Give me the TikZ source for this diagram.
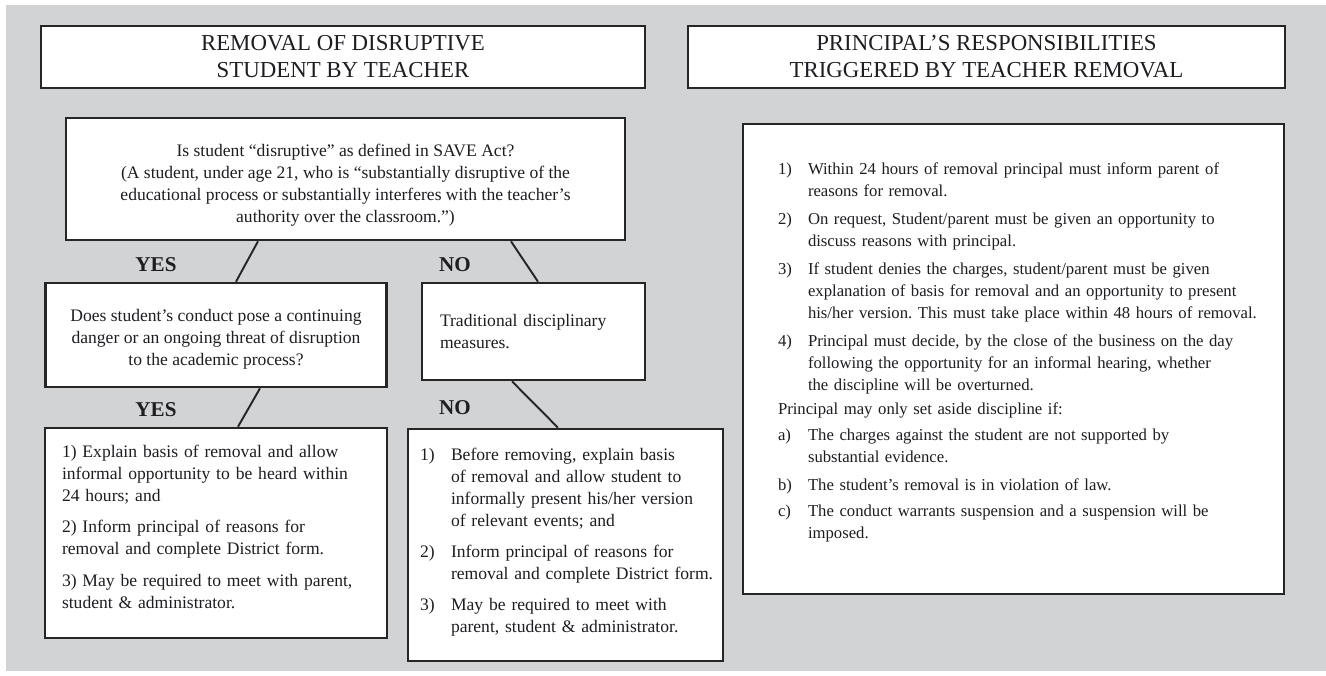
\documentclass[tikz,border=0pt]{standalone}
\usepackage{fontspec}
\setmainfont{Liberation Serif}
\frenchspacing
\definecolor{panelgray}{RGB}{210,211,213}
\definecolor{inkgray}{RGB}{30,30,34}
% hanging list item: \hitem[indent]{label}{lines}
\newcommand{\hitem}[3][0.6cm]{\par\noindent\makebox[#1][l]{#2}\begin{tabular}[t]{@{}l@{}}#3\end{tabular}}

\begin{document}
\begin{tikzpicture}[
    box/.style={rectangle, draw=black!85, line width=1.5pt, fill=white, text=inkgray, inner sep=0pt},
    titlebox/.style={box, align=center, font=\fontsize{13}{15.4}\selectfont},
    textbox/.style={box, font=\fontsize{10}{12.5}\selectfont},
    listbox/.style={textbox, align=left, execute at begin node={\setlength{\parskip}{#1}}},
    answer/.style={font=\fontsize{12}{14}\selectfont\bfseries, text=inkgray},
    link/.style={draw=black!85, line width=1.1pt}
]

\useasboundingbox (0,0) rectangle (26.52,-13.5);
\fill[white] (0,0) rectangle (26.52,-13.5);
\fill[panelgray] (0.12,-0.1) rectangle (26.52,-13.42);

%Titles
\node[titlebox, minimum width=12.08cm, minimum height=1.24cm] (titleL) at (6.86,-1.14) {REMOVAL OF DISRUPTIVE\\STUDENT BY TEACHER};
\node[titlebox, minimum width=11.94cm, minimum height=1.24cm] (titleR) at (19.73,-1.14) {PRINCIPAL’S RESPONSIBILITIES\\TRIGGERED BY TEACHER REMOVAL};

%Question
\node[textbox, align=center, minimum width=11.18cm, minimum height=2.44cm] (question) at (6.91,-3.58) {\rule{0pt}{14pt}Is student “disruptive” as defined in SAVE Act?\\(A student, under age 21, who is “substantially disruptive of the\\educational process or substantially interferes with the teacher’s\\authority over the classroom.”)};

%Yes branch
\node[textbox, align=center, minimum width=6.82cm, minimum height=2.08cm] (yesbox) at (4.32,-6.70) {\rule{0pt}{12pt}Does student’s conduct pose a continuing\\danger or an ongoing threat of disruption\\to the academic process?};

%No branch
\node[textbox, align=left, text width=3.74cm, minimum width=4.46cm, minimum height=1.94cm] (tradbox) at (10.67,-6.63) {Traditional disciplinary\\measures.};

%Steps when yes
\node[listbox=5.6pt, text width=6.16cm, minimum width=6.84cm, minimum height=4.20cm] (stepsyes) at (4.32,-10.66) {%
\noindent 1) Explain basis of removal and allow\\informal opportunity to be heard within\\24 hours; and
\par\noindent 2) Inform principal of reasons for\\removal and complete District form.
\par\noindent 3) May be required to meet with parent,\\student \& administrator.\par\vspace{7pt}};

%Steps when no
\node[listbox=4pt, text width=5.82cm, minimum width=6.30cm, minimum height=4.64cm] (stepsno) at (11.31,-10.90) {%
\hitem[0.62cm]{1)}{Before removing, explain basis\\of removal and allow student to\\informally present his/her version\\of relevant events; and}
\hitem[0.62cm]{2)}{Inform principal of reasons for\\removal and complete District form.}
\hitem[0.62cm]{3)}{May be required to meet with\\parent, student \& administrator.}\par\vspace{11pt}};

%Principal
\node[listbox=2.4pt, font=\fontsize{9.5}{12.5}\selectfont, text width=9.42cm, minimum width=10.82cm, minimum height=9.40cm] (rbox) at (20.27,-7.18) {%
\hitem{1)}{Within 24 hours of removal principal must inform parent of\\reasons for removal.}
\hitem{2)}{On request, Student/parent must be given an opportunity to\\discuss reasons with principal.}
\hitem{3)}{If student denies the charges, student/parent must be given\\explanation of basis for removal and an opportunity to present\\his/her version. This must take place within 48 hours of removal.}
\hitem{4)}{Principal must decide, by the close of the business on the day\\following the opportunity for an informal hearing, whether\\the discipline will be overturned.}
\par\noindent Principal may only set aside discipline if:
\hitem{a)}{The charges against the student are not supported by\\substantial evidence.}
\hitem{b)}{The student’s removal is in violation of law.}
\hitem{c)}{The conduct warrants suspension and a suspension will be\\imposed.}\par\vspace{14pt}};

%Answers
\node[answer] (yes1) at (3.12,-5.30) {YES};
\node[answer] (no1) at (9.10,-5.30) {NO};
\node[answer] (yes2) at (3.12,-8.20) {YES};
\node[answer] (no2) at (9.10,-8.15) {NO};

%Links
\draw[link] ([xshift=-1.75cm]question.south) -- ([xshift=0.40cm]yesbox.north);
\draw[link] ([xshift=3.31cm]question.south) -- ([xshift=0.09cm]tradbox.north);
\draw[link] ([xshift=0.88cm]yesbox.south) -- ([xshift=0.44cm]stepsyes.north);
\draw[link] ([xshift=-0.43cm]tradbox.south) -- ([xshift=-0.15cm]stepsno.north);

\end{tikzpicture}
\end{document}
